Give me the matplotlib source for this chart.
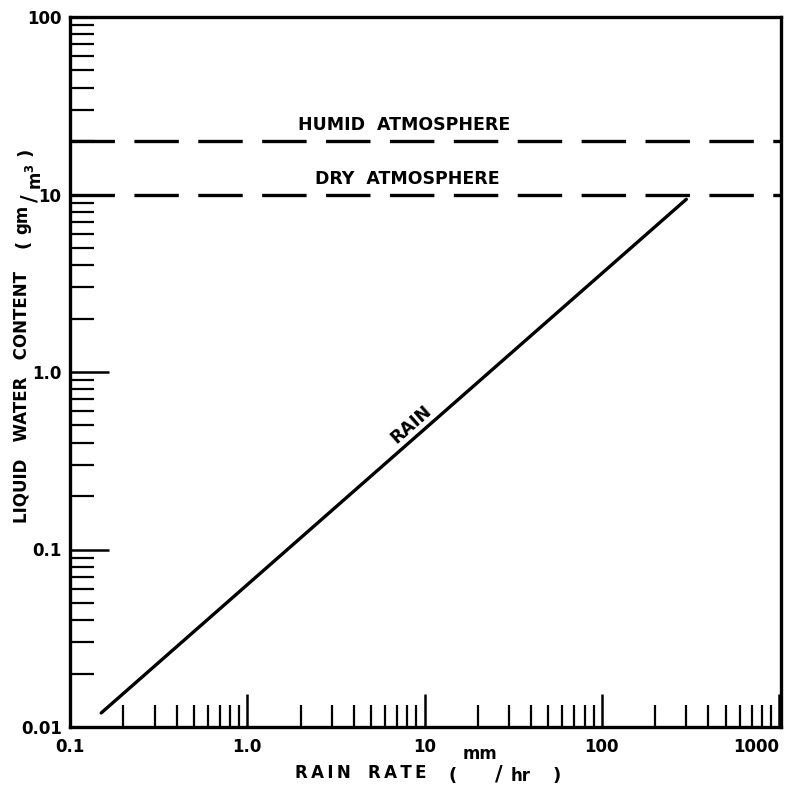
import matplotlib
matplotlib.use("Agg")
import matplotlib.pyplot as plt
from matplotlib.ticker import FixedLocator, LogLocator, NullFormatter, FixedFormatter

plt.rcParams['font.family'] = ['DejaVu Sans']
plt.rcParams['lines.scale_dashes'] = False

# Data
rain_rate = [0.15, 300]          # mm/hr
rain_lwc = [0.012, 9.4]          # g/m^3
humid_level = 20
dry_level = 10
x_ticks = [0.1, 1, 10, 100, 1000]
x_labels = ["0.1", "1.0", "10", "100", "1000"]
y_ticks = [0.01, 0.1, 1, 10, 100]
y_labels = ["0.01", "0.1", "1.0", "10", "100"]

TS = "\u2009"


def track(s, sep=TS):
    return sep.join(s)


W, H = 789, 788
fig = plt.figure(figsize=(W/100, H/100), dpi=100)


def ptext(x, y, s, **kw):
    kw.setdefault('fontweight', 'bold')
    kw.setdefault('fontsize', 12)
    return fig.text(x / W, 1 - y / H, s, **kw)


ax = fig.add_axes([70/W, 1 - 727/H, (781-70)/W, (727-17)/H])
ax.set_xscale('log')
ax.set_yscale('log')
ax.set_xlim(0.1, 1000 * 10**(2/177.5))
ax.set_ylim(0.01, 100)

lw = 2.4
ax.plot(rain_rate, rain_lwc, color='black', lw=lw, solid_capstyle='round')
ax.axhline(humid_level, color='black', lw=lw, linestyle=(0, (32, 14)))
ax.axhline(dry_level, color='black', lw=lw, linestyle=(0, (32, 14)))

tf = dict(fontsize=12.5, fontweight='bold')
ax.annotate("HUMID  ATMOSPHERE", xy=(0.47, humid_level), xycoords=('axes fraction', 'data'),
            xytext=(0, 5), textcoords='offset points', ha='center', va='bottom', **tf)
ax.annotate("DRY  ATMOSPHERE", xy=(0.475, dry_level), xycoords=('axes fraction', 'data'),
            xytext=(0, 5), textcoords='offset points', ha='center', va='bottom', **tf)
ax.text(8.4, 0.51, "RAIN", rotation=41.4, rotation_mode='anchor', ha='center', va='center', **tf)

for s in ax.spines.values():
    s.set_linewidth(2.4)

ax.xaxis.set_major_locator(FixedLocator(x_ticks))
ax.xaxis.set_major_formatter(FixedFormatter(x_labels))
ax.yaxis.set_major_locator(FixedLocator(y_ticks))
ax.yaxis.set_major_formatter(FixedFormatter(y_labels))
ax.xaxis.set_minor_locator(LogLocator(base=10, subs=range(2, 10), numticks=20))
ax.yaxis.set_minor_locator(LogLocator(base=10, subs=range(2, 10), numticks=20))
ax.xaxis.set_minor_formatter(NullFormatter())
ax.yaxis.set_minor_formatter(NullFormatter())

ax.tick_params(axis='x', which='major', direction='in', length=24, width=1.8, pad=8, labelsize=12)
ax.tick_params(axis='x', which='minor', direction='in', length=16, width=1.6)
ax.tick_params(axis='y', which='major', direction='in', length=28, width=1.8, pad=6, labelsize=12)
ax.tick_params(axis='y', which='minor', direction='in', length=17, width=1.6)
for lab in ax.get_xticklabels() + ax.get_yticklabels():
    lab.set_fontweight('bold')
fig.canvas.draw()
xl = ax.get_xticklabels()
xl[-1].set_horizontalalignment('right')
xl[-1].set_x(1000)

# x-axis label: RAIN RATE ( mm/hr )
ptext(361, 778, track("RAIN") + "   " + track("RATE"), ha='center', va='baseline')
ptext(453, 781, "(", ha='center', va='baseline', fontsize=13)
ptext(480, 759, "mm", ha='center', va='baseline', fontsize=12)
ptext(499, 781, "/", ha='center', va='baseline', fontsize=15)
ptext(521, 781, "hr", ha='center', va='baseline', fontsize=12)
ptext(557, 781, ")", ha='center', va='baseline', fontsize=13)

# y-axis label: LIQUID WATER CONTENT (gm/m^3), rotated
rk = dict(rotation=90, rotation_mode='anchor', ha='center', va='baseline')
ptext(27, 397, "LIQUID   WATER   CONTENT", **rk)
ptext(28, 244, "(", fontsize=13, **rk)
ptext(27, 219, "gm", **rk)
ptext(36, 198, "/", fontsize=15, **rk)
ptext(42, 177, r"m$\mathbf{^3}$", **rk)
ptext(30, 152, ")", fontsize=13, **rk)

fig.savefig("out.png", dpi=100)
